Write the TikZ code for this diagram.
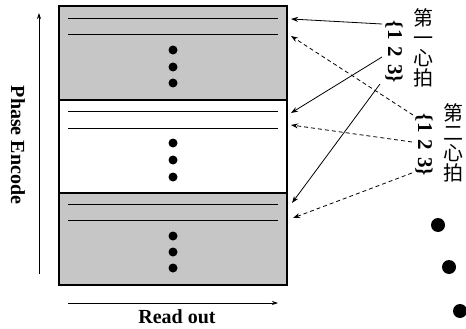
\documentclass[tikz,border=0pt]{standalone}
\usepackage{fontspec}
\setmainfont{Liberation Serif}
\newfontfamily\cjk{Noto Sans CJK SC}
\usetikzlibrary{arrows.meta}
\begin{document}
\begin{tikzpicture}[x=1pt,y=-1pt,
  shaded/.style={draw=black,line width=1.2pt,fill=gray!45},
  plain/.style={draw=black,line width=1.2pt,fill=white},
  kline/.style={line width=0.8pt},
  solidarr/.style={line width=0.8pt,-{Stealth[length=7pt,width=5pt]}},
  dasharr/.style={line width=0.8pt,dashed,dash pattern=on 4pt off 3pt,-{Stealth[length=7pt,width=5pt]}},
  axarr/.style={line width=0.8pt,-{Stealth[length=6pt,width=4pt]}},
  lab/.style={font=\fontsize{20}{22}\selectfont\bfseries},
  cjkv/.style={font=\cjk\fontsize{20}{20}\selectfont,align=center,inner sep=0pt},
  nums/.style={font=\fontsize{21}{22}\selectfont\bfseries,rotate=-90,inner sep=0pt}]
\useasboundingbox (0,0) rectangle (466,329);
% blocks
\path[shaded] (59,6) rectangle (287,100);
\path[plain] (59,100) rectangle (287,193);
\path[shaded] (59,193) rectangle (287,285);
% lines
\foreach \y in {18,34,111,128,204,220} \draw[kline] (68,\y) -- (278,\y);
% small dots
\foreach \y in {50,67,83,143,160,177,236,252,268} \fill (173,\y) circle (4.5);
% axes
\coordinate (pe0) at (39,274); \coordinate (pe1) at (39,13);
\draw[axarr] (pe0) -- (pe1);
\coordinate (ro0) at (68,303); \coordinate (ro1) at (278,303);
\draw[axarr] (ro0) -- (ro1);
\node[lab,rotate=-90] (pe) at (18,145) {Phase Encode};
\node[lab] (ro) at (177,317) {Read out};
% labels
\node[cjkv] (h1) at (423,48) {第\\一\\心\\拍};
\node[nums] (n1) at (394,52) {\{1\hspace{7pt}2\hspace{7pt}3\}};
\node[cjkv] (h2) at (453,143) {第\\二\\心\\拍};
\node[nums] (n2) at (424,145) {\{1\hspace{7pt}2\hspace{7pt}3\}};
% targets
\coordinate (t1) at (291,19);
\coordinate (t2) at (291,113);
\coordinate (t3) at (292,203);
\coordinate (d1) at (291,36);
\coordinate (d2) at (291,125);
\coordinate (d3) at (293,218);
\coordinate (s1) at (382,24);
\coordinate (s2) at (382,57);
\coordinate (s3) at (380,84);
\coordinate (e1) at (413,115);
\coordinate (e2) at (412,142);
\coordinate (e3) at (412,173);
\draw[solidarr] (s1) -- (t1);
\draw[solidarr] (s2) -- (t2);
\draw[solidarr] (s3) -- (t3);
\draw[dasharr] (e1) -- (d1);
\draw[dasharr] (e2) -- (d2);
\draw[dasharr] (e3) -- (d3);
% big dots
\fill (438,225) circle (7);
\fill (449,267) circle (7);
\fill (460,311) circle (7);
\end{tikzpicture}
\end{document}
